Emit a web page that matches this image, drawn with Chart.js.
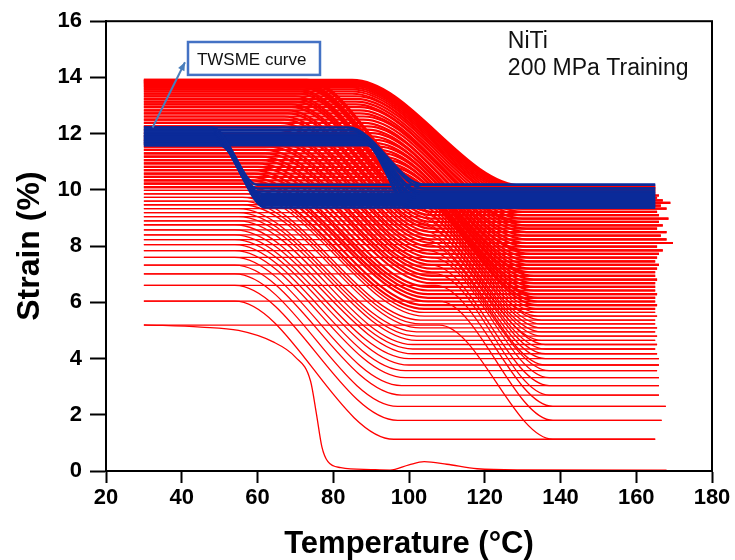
<!DOCTYPE html>
<html>
<head>
<meta charset="utf-8">
<script src="https://cdn.jsdelivr.net/npm/chart.js@4.4.1/dist/chart.umd.min.js"></script>
<style>
  html, body { margin: 0; padding: 0; background: #fff; }
</style>
</head>
<body>
<canvas id="myChart" width="735" height="560"></canvas>
<script>
// training cycles under 200 MPa: strain at 30 °C (after cooling) and at the hot end (after heating)
const coldStrain = [5.19, 6.04, 6.60, 7.01, 7.32, 7.60, 7.84, 8.05, 8.23, 8.40,
  8.58, 8.76, 8.90, 9.05, 9.19, 9.33, 9.47, 9.60, 9.73, 9.86,
  9.98, 10.10, 10.22, 10.34, 10.46, 10.58, 10.70, 10.82, 10.94, 11.06,
  11.18, 11.30, 11.42, 11.54, 11.66, 11.78, 11.90, 12.02, 12.14, 12.26,
  12.38, 12.50, 12.61, 12.72, 12.83, 12.94, 13.04, 13.14, 13.24, 13.33,
  13.42, 13.50, 13.57, 13.64, 13.70, 13.75, 13.80, 13.84, 13.88, 13.91];
const hotStrain = [1.13, 1.80, 2.30, 2.70, 3.04, 3.32, 3.57, 3.77, 4.00, 4.17,
  4.34, 4.50, 4.65, 4.80, 4.95, 5.09, 5.23, 5.37, 5.51, 5.64,
  5.77, 5.90, 6.03, 6.16, 6.29, 6.42, 6.55, 6.68, 6.81, 6.94,
  7.07, 7.20, 7.33, 7.46, 7.59, 7.72, 7.85, 7.98, 8.11, 8.24,
  8.37, 8.50, 8.62, 8.74, 8.86, 8.98, 9.10, 9.22, 9.33, 9.44,
  9.54, 9.63, 9.72, 9.80, 9.87, 9.94, 10.00, 10.05, 10.10, 10.15];
// max temperature reached in each cycle
const hotEndT = [165, 166.7, 167.8, 166, 166, 166, 165.5, 166, 166, 165.5,
  165, 165.5, 165, 165.5, 165, 165.5, 165, 165, 165.5, 165,
  165, 165.5, 165, 165, 165.5, 165, 165, 165, 165.5, 165,
  165, 165.5, 166, 165, 165.5, 166, 167, 165.5, 169.7, 168,
  166.5, 168, 165.5, 167, 166, 168.5, 166, 165.5, 168, 166.5,
  169, 167, 165.5, 166, 165, 165, 165, 165, 165, 165];
// heating: temperature where strain starts to fall / has fallen
const heatStartT = [108, 108, 107, 107, 106, 106, 105, 105, 104, 104,
  103, 103, 102, 102, 101, 101, 100, 100, 99, 99,
  98, 98, 97, 97, 96, 96, 95, 95, 94, 94,
  93, 93, 92, 92, 91, 91, 90, 90, 89, 89,
  88, 88, 88, 87, 87, 87, 86, 86, 86, 86,
  85, 85, 85, 85, 85, 85, 85, 85, 85, 85];
const heatEndT = [138, 138, 138, 137, 137, 137, 137, 136, 136, 136,
  136, 136, 135, 135, 135, 135, 135, 135, 134, 134,
  134, 134, 134, 134, 133, 133, 133, 133, 133, 133,
  132, 132, 132, 132, 132, 132, 131, 131, 131, 131,
  131, 131, 131, 131, 130, 130, 130, 130, 130, 130,
  130, 130, 130, 130, 130, 130, 130, 130, 130, 130];
// cooling of cycles 2..60: low / high end of the transformation
const coolLowT = [54, 54, 54, 54, 54, 54, 54, 54, 54, 54,
  54, 55, 55, 55, 55, 56, 56, 56, 57, 57,
  57, 58, 58, 58, 59, 59, 60, 60, 61, 61,
  62, 62, 63, 63, 64, 64, 65, 65, 66, 66,
  67, 67, 68, 68, 69, 69, 70, 70, 70, 71,
  71, 71, 72, 72, 72, 72, 73, 73, 73];
const coolHighT = [96, 97, 97, 98, 98, 99, 99, 100, 100, 101,
  101, 101, 102, 102, 102, 103, 103, 103, 104, 104,
  104, 104, 105, 105, 105, 105, 105, 106, 106, 106,
  106, 106, 106, 106, 106, 106, 106, 106, 106, 106,
  106, 106, 106, 106, 106, 106, 106, 106, 106, 106,
  106, 106, 106, 106, 106, 106, 106, 106, 106];
// first cooling from the unloaded austenite
const firstCoolT = [30, 45, 55, 64, 70, 74, 75.6, 77, 78.6, 82, 90, 95, 100, 104, 110, 118, 130, 168];
const firstCoolStrain = [5.2, 5.12, 5.0, 4.6, 4.05, 3.2, 2.0, 0.86, 0.33, 0.12, 0.05, 0.03, 0.22, 0.33, 0.24, 0.08, 0.04, 0.03];

// TWSME cycles (no load)
const twsmeCold = [12.22, 12.12, 12.04, 11.97, 11.91, 11.85, 11.79, 11.74, 11.69, 11.64, 11.59];
const twsmeHot = [10.18, 10.05, 9.94, 9.86, 9.79, 9.72, 9.65, 9.58, 9.51, 9.44, 9.37];
const twsmeHeatStartT = [84, 85, 86, 86, 87, 87, 88, 88, 88, 89, 89];
const twsmeHeatEndT = [104, 104, 103, 103, 102, 102, 101, 101, 100, 100, 100];
const twsmeCoolLowT = [48, 48, 48, 49, 49, 49, 49, 50, 50, 50, 50];
const twsmeCoolHighT = [60, 60, 60, 61, 61, 61, 61, 62, 62, 62, 62];
const twsmeEndT = 165;

const startT = 30;
const xTicks = [20, 40, 60, 80, 100, 120, 140, 160, 180];
const yTicks = [0, 2, 4, 6, 8, 10, 12, 14, 16];

const RED = '#ff0000';
const BLUE = '#0a2a99';

function curve(points, color, width, order) {
  return {
    data: points,
    showLine: true,
    borderColor: color,
    borderWidth: width,
    pointRadius: 0,
    cubicInterpolationMode: 'monotone',
    order: order
  };
}

// thicker strokes where the late cycles crowd together
const redWidth = (strain) => (strain > 10 ? 2.2 : 1.3);

const datasets = [];
datasets.push(curve(firstCoolT.map((t, i) => ({ x: t, y: firstCoolStrain[i] })), RED, 1.3, 2));
for (let n = 0; n < coldStrain.length; n++) {
  datasets.push(curve([
    { x: startT, y: coldStrain[n] },
    { x: heatStartT[n], y: coldStrain[n] },
    { x: heatEndT[n], y: hotStrain[n] },
    { x: hotEndT[n], y: hotStrain[n] }
  ], RED, redWidth(coldStrain[n]), 2));
  if (n + 1 < coldStrain.length) {
    datasets.push(curve([
      { x: startT, y: coldStrain[n + 1] },
      { x: coolLowT[n], y: coldStrain[n + 1] },
      { x: coolHighT[n], y: hotStrain[n] },
      { x: hotEndT[n], y: hotStrain[n] }
    ], RED, redWidth(coldStrain[n + 1]), 2));
  }
}
for (let k = 0; k < twsmeCold.length; k++) {
  datasets.push(curve([
    { x: startT, y: twsmeCold[k] },
    { x: twsmeHeatStartT[k], y: twsmeCold[k] },
    { x: twsmeHeatEndT[k], y: twsmeHot[k] },
    { x: twsmeEndT, y: twsmeHot[k] }
  ], BLUE, 2.5, 1));
  datasets.push(curve([
    { x: startT, y: twsmeCold[k] },
    { x: twsmeCoolLowT[k], y: twsmeCold[k] },
    { x: twsmeCoolHighT[k], y: twsmeHot[k] },
    { x: twsmeEndT, y: twsmeHot[k] }
  ], BLUE, 2.5, 1));
}

// text notes, placed in data units
const noteText = ['NiTi', '200 MPa Training'];
const noteX = 126.1;
const noteY = [15.05, 14.07];
const boxText = 'TWSME curve';

const frameAndNotes = {
  id: 'frameAndNotes',
  afterDraw(chart) {
    const { ctx, chartArea: a, scales: { x, y } } = chart;
    ctx.save();
    ctx.strokeStyle = '#000';
    ctx.lineWidth = 2;
    ctx.strokeRect(a.left, a.top, a.right - a.left, a.bottom - a.top);

    ctx.fillStyle = '#111';
    ctx.font = '23px "Liberation Sans", Arial, sans-serif';
    ctx.textBaseline = 'alphabetic';
    noteText.forEach((t, i) => ctx.fillText(t, x.getPixelForValue(noteX), y.getPixelForValue(noteY[i])));

    // TWSME box and arrow
    const bx0 = x.getPixelForValue(41.65), bx1 = x.getPixelForValue(76.5);
    const by0 = y.getPixelForValue(15.26), by1 = y.getPixelForValue(14.09);
    ctx.fillStyle = '#fff';
    ctx.fillRect(bx0, by0, bx1 - bx0, by1 - by0);
    ctx.strokeStyle = '#4472c4';
    ctx.lineWidth = 2.5;
    ctx.strokeRect(bx0, by0, bx1 - bx0, by1 - by0);
    ctx.fillStyle = '#111';
    ctx.font = '17px "Liberation Sans", Arial, sans-serif';
    ctx.fillText(boxText, x.getPixelForValue(44), y.getPixelForValue(14.45));

    const ax0 = x.getPixelForValue(32.3), ay0 = y.getPixelForValue(12.22);
    const ax1 = x.getPixelForValue(40.85), ay1 = y.getPixelForValue(14.54);
    ctx.strokeStyle = '#4a7ebb';
    ctx.fillStyle = '#4a7ebb';
    ctx.lineWidth = 2;
    ctx.beginPath();
    ctx.moveTo(ax0, ay0);
    ctx.lineTo(ax1, ay1);
    ctx.stroke();
    const ang = Math.atan2(ay1 - ay0, ax1 - ax0);
    ctx.beginPath();
    ctx.moveTo(ax1, ay1);
    ctx.lineTo(ax1 - 9 * Math.cos(ang - 0.4), ay1 - 9 * Math.sin(ang - 0.4));
    ctx.lineTo(ax1 - 9 * Math.cos(ang + 0.4), ay1 - 9 * Math.sin(ang + 0.4));
    ctx.closePath();
    ctx.fill();
    ctx.restore();
  }
};

const tickFont = { family: '"Liberation Sans", Arial, sans-serif', size: 22, weight: 'bold' };

new Chart(document.getElementById('myChart'), {
  type: 'scatter',
  data: { datasets: datasets },
  options: {
    responsive: false,
    animation: false,
    events: [],
    layout: { padding: { top: 18, right: 23, left: 0, bottom: 0 } },
    plugins: { legend: { display: false }, tooltip: { enabled: false } },
    scales: {
      x: {
        type: 'linear',
        min: 20,
        max: 180,
        afterBuildTicks: (s) => { s.ticks = xTicks.map(v => ({ value: v })); },
        afterFit: (s) => { s.height = 89; },
        ticks: { color: '#000', font: tickFont, padding: 2 },
        grid: { drawOnChartArea: false, drawTicks: true, tickLength: 12, tickColor: '#000', tickWidth: 2 },
        border: { display: true, color: '#000', width: 2 },
        title: {
          display: true,
          text: 'Temperature (°C)',
          color: '#000',
          font: { family: '"Liberation Sans", Arial, sans-serif', size: 31, weight: 'bold', lineHeight: 1 },
          padding: 0
        }
      },
      y: {
        type: 'linear',
        min: 0,
        max: 16,
        afterBuildTicks: (s) => { s.ticks = yTicks.map(v => ({ value: v })); },
        afterFit: (s) => { s.width = 106; },
        ticks: { color: '#000', font: tickFont, padding: 8 },
        grid: { drawOnChartArea: false, drawTicks: true, tickLength: 16, tickColor: '#000', tickWidth: 2 },
        border: { display: true, color: '#000', width: 2 },
        title: {
          display: true,
          text: 'Strain (%)',
          color: '#000',
          font: { family: '"Liberation Sans", Arial, sans-serif', size: 32, weight: 'bold', lineHeight: 1 },
          padding: { top: 14, bottom: 0 }
        }
      }
    }
  },
  plugins: [frameAndNotes]
});
</script>
</body>
</html>
